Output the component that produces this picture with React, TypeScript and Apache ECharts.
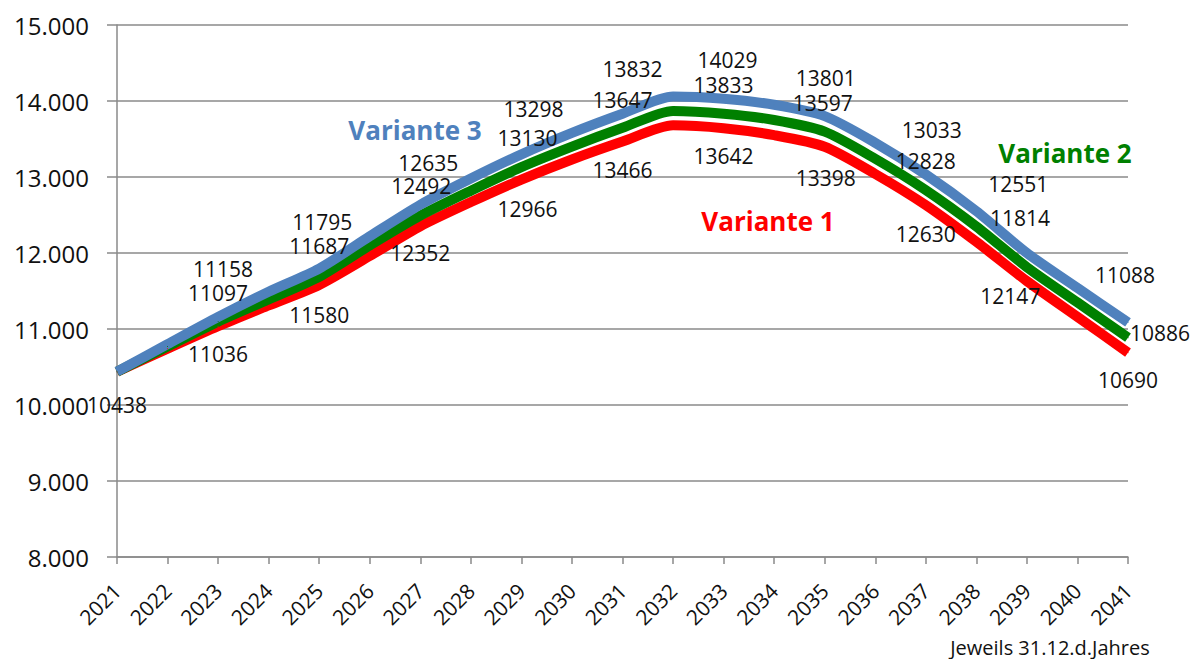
import React, { useEffect, useRef } from "react";
import * as echarts from "echarts";

const years = ["2021","2022","2023","2024","2025","2026","2027","2028","2029","2030","2031","2032","2033","2034","2035","2036","2037","2038","2039","2040","2041"];

const variante1 = [10438, 10740, 11036, 11310, 11580, 11960, 12352, 12670, 12966, 13230, 13466, 13680, 13642, 13550, 13398, 13040, 12630, 12147, 11630, 11160, 10690];
const variante2 = [10438, 10770, 11097, 11390, 11687, 12100, 12492, 12820, 13130, 13400, 13647, 13870, 13833, 13750, 13597, 13240, 12828, 12350, 11814, 11350, 10886];
const variante3 = [10438, 10800, 11158, 11490, 11795, 12220, 12635, 12980, 13298, 13580, 13832, 14060, 14029, 13950, 13801, 13450, 13033, 12551, 12000, 11540, 11088];

const yTicks = [8000, 15000, 1000];

// label placements (index -> [dx, dy]) — styling only
const labels1: Record<number, [number, number]> = { 0: [0, 33], 2: [0, 28], 4: [0, 30], 6: [0, 27], 8: [6, 29], 10: [0, 28], 12: [0, 28], 14: [1, 31], 16: [0, 29], 17: [34, 54], 20: [0, 27] };
const labels2: Record<number, [number, number]> = { 2: [0, -29], 4: [0, -31], 6: [1, -30], 8: [6, -29], 10: [0, -28], 12: [0, -29], 14: [-2, -29], 16: [0, -29], 18: [-7, -49], 20: [32, -5] };
const labels3: Record<number, [number, number]> = { 2: [5, -48], 4: [3, -47], 6: [8, -42], 8: [12, -45], 10: [10, -45], 12: [4, -39], 14: [1, -38], 16: [6, -44], 17: [42, -27], 20: [-3, -47] };

const FONT = "'Open Sans', 'Noto Sans', sans-serif";

function buildData(values: number[], labels: Record<number, [number, number]>) {
  return values.map((v, i) => {
    const off = labels[i];
    if (!off) return { value: v };
    return {
      value: v,
      label: {
        show: true,
        position: "inside",
        offset: off,
        formatter: String(v),
        color: "#111",
        fontSize: 21,
        fontFamily: FONT,
      },
    };
  });
}

function fmt(v: number) {
  const s = String(Math.round(v));
  return s.replace(/\B(?=(\d{3})+(?!\d))/g, ".");
}

export default function App() {
  const ref = useRef<HTMLDivElement>(null);
  useEffect(() => {
    if (!ref.current) return;
    const chart = echarts.init(ref.current, undefined, { renderer: "svg" });
    const gridColor = "#8a8a8a";
    const mkSeries = (name: string, color: string, values: number[], labels: Record<number, [number, number]>) => ({
      name,
      type: "line",
      smooth: 0.25,
      symbol: "circle",
      symbolSize: 1,
      showSymbol: true,
      itemStyle: { color },
      lineStyle: { color, width: 10 },
      label: { show: false },
      emphasis: { disabled: true },
      data: buildData(values, labels),
    });
    chart.setOption({
      animation: false,
      backgroundColor: "#ffffff",
      grid: { left: 117, right: 69, top: 25, bottom: 102, containLabel: false },
      xAxis: {
        type: "category",
        data: years,
        boundaryGap: false,
        axisLine: { lineStyle: { color: gridColor, width: 1.5 } },
        axisTick: { show: true, length: 7, lineStyle: { color: gridColor, width: 1.5 } },
        axisLabel: { rotate: 45, fontSize: 21, color: "#111", fontFamily: FONT, margin: 30, interval: 0 },
        splitLine: { show: false },
      },
      yAxis: {
        type: "value",
        min: yTicks[0],
        max: yTicks[1],
        interval: yTicks[2],
        axisLine: { show: true, lineStyle: { color: gridColor, width: 1.5 } },
        axisTick: { show: true, length: 10, lineStyle: { color: gridColor, width: 1.5 } },
        axisLabel: { formatter: (v: number) => fmt(v), fontSize: 24, color: "#111", fontFamily: FONT, margin: 28 },
        splitLine: { show: true, lineStyle: { color: gridColor, width: 1.5 } },
      },
      series: [
        mkSeries("Variante 1", "#ff0000", variante1, labels1),
        mkSeries("Variante 2", "#008000", variante2, labels2),
        mkSeries("Variante 3", "#4f81bd", variante3, labels3),
      ],
      graphic: [
        { type: "text", x: 415, y: 130, style: { text: "Variante 3", fill: "#4f81bd", font: `bold 26px ${FONT}`, textAlign: "center", textVerticalAlign: "middle" } },
        { type: "text", x: 1065, y: 153, style: { text: "Variante 2", fill: "#008000", font: `bold 26px ${FONT}`, textAlign: "center", textVerticalAlign: "middle" } },
        { type: "text", x: 768, y: 221, style: { text: "Variante 1", fill: "#ff0000", font: `bold 26px ${FONT}`, textAlign: "center", textVerticalAlign: "middle" } },
        { type: "text", x: 1050, y: 647, style: { text: "Jeweils 31.12.d.Jahres", fill: "#111", font: `20px ${FONT}`, textAlign: "center", textVerticalAlign: "middle" } },
      ],
    });
    return () => chart.dispose();
  }, []);
  return <div ref={ref} style={{ position: "absolute", left: 0, top: 0, width: 1197, height: 659 }} />;
}
